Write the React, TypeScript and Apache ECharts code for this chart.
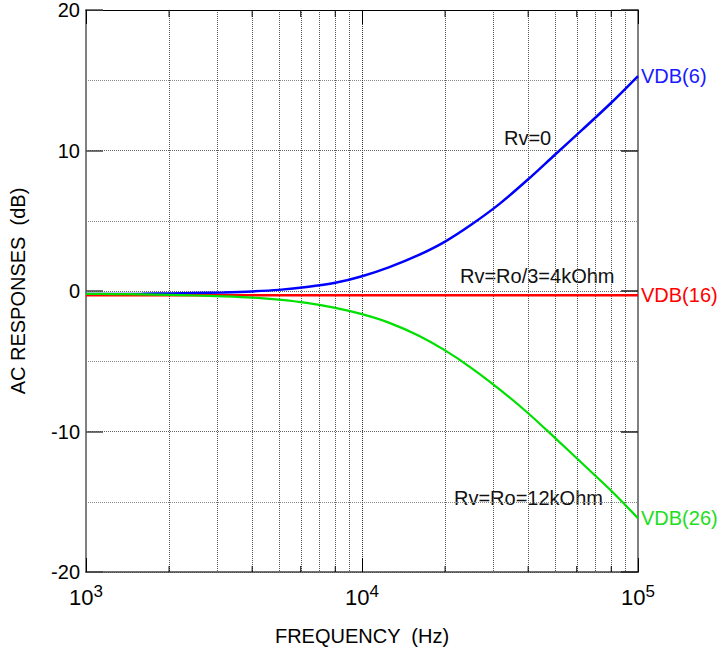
import React, { useEffect, useRef } from "react";
import * as echarts from "echarts";

// Frequencies (Hz) at which the curves were read
const FREQ = [1000, 1250, 1600, 2000, 2500, 3150, 4000, 5000, 6300, 8000, 10000, 12500, 16000, 20000, 25000, 31500, 40000, 50000, 63000, 80000, 100000];
// VDB(6): Rv = 0
const VDB6 = [-0.22, -0.21, -0.2, -0.17, -0.14, -0.1, -0.03, 0.08, 0.28, 0.58, 1.05, 1.68, 2.55, 3.52, 4.75, 6.2, 7.95, 9.7, 11.5, 13.4, 15.3];
// VDB(26): Rv = Ro = 12kOhm
const VDB26 = [-0.2, -0.22, -0.24, -0.27, -0.32, -0.38, -0.47, -0.62, -0.85, -1.2, -1.65, -2.25, -3.17, -4.23, -5.5, -7.0, -8.7, -10.45, -12.3, -14.22, -16.17];
// VDB(16): Rv = Ro/3 = 4kOhm (flat)
const FREQ16 = [1000, 100000];
const VDB16 = [-0.3, -0.3];

// Even minor ticks drawn as short solid marks on the frame
const EVEN_MINOR = [2000, 4000, 6000, 8000, 20000, 40000, 60000, 80000];

const SERIES_NAMES = ["VDB(6)", "VDB(16)", "VDB(26)"];
const ANNOTATIONS = ["Rv=0", "Rv=Ro/3=4kOhm", "Rv=Ro=12kOhm"];

const FONT = "Liberation Sans, Arial, Helvetica, sans-serif";

export default function App() {
  const ref = useRef<HTMLDivElement>(null);
  useEffect(() => {
    if (!ref.current) return;
    const chart = echarts.init(ref.current, null, { renderer: "svg" });
    const zip = (xs: number[], ys: number[]) => xs.map((x, i) => [x, ys[i]]);
    const endLabel = (text: string, color: string) => ({
      show: true,
      formatter: text,
      color,
      fontSize: 20,
      fontFamily: FONT,
      distance: 3,
    });
    const option: any = {
      animation: false,
      backgroundColor: "#ffffff",
      grid: { left: 86, right: 84, top: 9.5, bottom: 78, containLabel: false },
      xAxis: [
        {
          type: "log",
          logBase: 10,
          min: 1000,
          max: 100000,
          name: "FREQUENCY  (Hz)",
          nameLocation: "middle",
          nameGap: 54,
          nameTextStyle: { fontSize: 20, color: "#000", fontFamily: FONT },
          axisLine: { show: true, onZero: false, lineStyle: { color: "#444", width: 1.5 } },
          axisTick: { show: true, inside: true, length: 14, lineStyle: { color: "#000", width: 1 } },
          minorTick: { show: false, splitNumber: 9 },
          splitLine: { show: true, lineStyle: { color: "#333", type: [1, 1], width: 1 } },
          minorSplitLine: { show: true, lineStyle: { color: "#555", type: [1, 1], width: 1 } },
          axisLabel: {
            margin: 11,
            formatter: (v: number) => `{b|10}{s|${Math.round(Math.log10(v))}}`,
            rich: {
              b: { fontSize: 22, fontFamily: FONT, color: "#000", verticalAlign: "bottom" },
              s: { fontSize: 17, fontFamily: FONT, color: "#000", verticalAlign: "top", padding: [0, 0, 8, 0] },
            },
          },
        },
        {
          type: "log",
          logBase: 10,
          min: 1000,
          max: 100000,
          position: "top",
          axisLine: { show: true, onZero: false, lineStyle: { color: "#000", width: 1 } },
          axisTick: { show: true, inside: true, length: 14, lineStyle: { color: "#000", width: 1 } },
          axisLabel: { show: false },
          splitLine: { show: false },
        },
      ],
      yAxis: [
        {
          type: "value",
          min: -20,
          max: 20,
          interval: 10,
          name: "AC RESPONSES  (dB)",
          nameLocation: "middle",
          nameGap: 58,
          nameTextStyle: { fontSize: 20, color: "#000", fontFamily: FONT },
          axisLine: { show: true, onZero: false, lineStyle: { color: "#808080", width: 2 } },
          axisTick: { show: true, inside: true, length: 17, lineStyle: { color: "#444", width: 1.5 } },
          minorTick: { show: false, splitNumber: 2 },
          splitLine: { show: true, lineStyle: { color: "#666", type: [1, 1], width: 1 } },
          minorSplitLine: { show: true, lineStyle: { color: "#888", type: [1, 1], width: 1 } },
          axisLabel: { fontSize: 20, color: "#000", fontFamily: FONT, margin: 6 },
        },
        {
          type: "value",
          min: -20,
          max: 20,
          interval: 10,
          position: "right",
          axisLine: { show: true, onZero: false, lineStyle: { color: "#808080", width: 2 } },
          axisTick: { show: true, inside: true, length: 17, lineStyle: { color: "#222", width: 1.5 } },
          axisLabel: { show: false },
          splitLine: { show: false },
        },
      ],
      series: [
        {
          name: SERIES_NAMES[0],
          type: "line",
          data: zip(FREQ, VDB6),
          showSymbol: false,
          smooth: 0.3,
          lineStyle: { color: "#0000ff", width: 2.5 },
          itemStyle: { color: "#0000ff" },
          endLabel: endLabel(SERIES_NAMES[0], "#1a1aff"),
          z: 3,
        },
        {
          name: SERIES_NAMES[1],
          type: "line",
          data: zip(FREQ16, VDB16),
          showSymbol: false,
          lineStyle: { color: "#ff0000", width: 2.5 },
          itemStyle: { color: "#ff0000" },
          endLabel: endLabel(SERIES_NAMES[1], "#ff0000"),
          z: 4,
        },
        {
          name: SERIES_NAMES[2],
          type: "line",
          data: zip(FREQ, VDB26),
          showSymbol: false,
          smooth: 0.3,
          lineStyle: { color: "#00e000", width: 2.2 },
          itemStyle: { color: "#00e000" },
          endLabel: endLabel(SERIES_NAMES[2], "#22dd22"),
          z: 5,
        },
        {
          type: "custom",
          silent: true,
          data: EVEN_MINOR.map((v) => [v, 0]),
          encode: { x: 0, y: 1 },
          z: 6,
          renderItem: (_p: any, api: any) => {
            const v = api.value(0);
            const b = api.coord([v, -20]);
            const t = api.coord([v, 20]);
            return {
              type: "group",
              children: [
                { type: "line", shape: { x1: b[0], y1: b[1], x2: b[0], y2: b[1] - 6 }, style: { stroke: "#000", lineWidth: 1 } },
                { type: "line", shape: { x1: t[0], y1: t[1], x2: t[0], y2: t[1] + 7 }, style: { stroke: "#000", lineWidth: 1 } },
              ],
            };
          },
        },
      ],
      graphic: [
        { type: "text", x: 504, y: 137.5, style: { text: ANNOTATIONS[0], fontSize: 20, fontFamily: FONT, fill: "#111", verticalAlign: "middle" } },
        { type: "text", x: 460, y: 275.5, style: { text: ANNOTATIONS[1], fontSize: 20, fontFamily: FONT, fill: "#111", verticalAlign: "middle" } },
        { type: "text", x: 454, y: 498, style: { text: ANNOTATIONS[2], fontSize: 20, fontFamily: FONT, fill: "#111", verticalAlign: "middle" } },
      ],
    };
    chart.setOption(option);
    return () => chart.dispose();
  }, []);
  return (
    <div
      ref={ref}
      style={{ position: "absolute", left: 0, top: 0, width: 722, height: 651, background: "#fff" }}
    />
  );
}
